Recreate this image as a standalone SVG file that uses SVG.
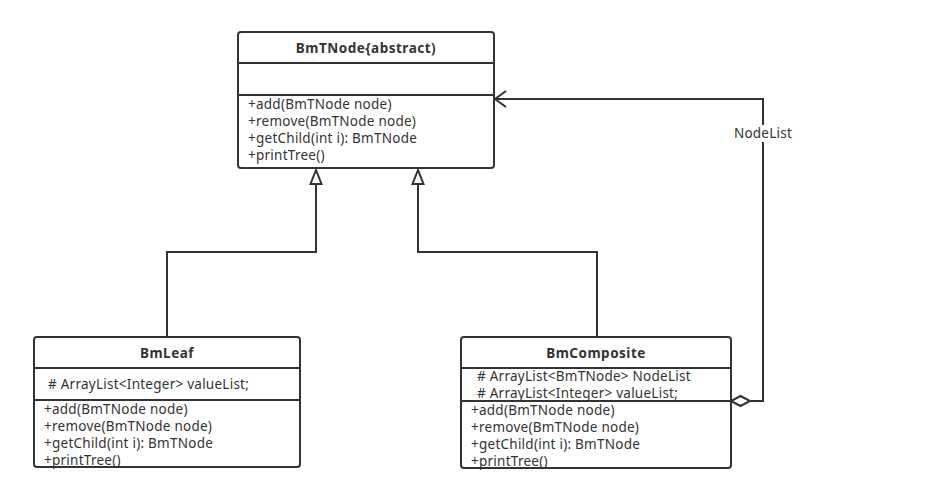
<svg xmlns="http://www.w3.org/2000/svg" width="925" height="491" viewBox="0 0 925 491">
<defs>
<style>
.box{fill:#fff;stroke:#333;stroke-width:2}
.sep{stroke:#333;stroke-width:2}
.t{font-family:"Noto Sans","Open Sans",sans-serif;font-size:13.5px;letter-spacing:0.25px;fill:#333}
.title{font-family:"Noto Sans","Open Sans",sans-serif;font-size:13.5px;letter-spacing:0.5px;font-weight:bold;fill:#333;text-anchor:middle}
.ln{fill:none;stroke:#333;stroke-width:2}
</style>
</defs>
<rect width="925" height="491" fill="#fff"/>
<g id="connectors">
<polyline class="ln" points="167,337 167,252 316,252 316,184"/>
<polygon points="316,170 310.5,184 321.5,184" fill="#fff" stroke="#333" stroke-width="2"/>
<polyline class="ln" points="597,337 597,252 418,252 418,184"/>
<polygon points="418,170 412.5,184 423.5,184" fill="#fff" stroke="#333" stroke-width="2"/>
<polyline class="ln" points="750,401 763,401 763,99 495,99"/>
<polyline class="ln" points="506,91 495,99 506,107"/>
<polygon points="731,401 740.5,396 750,401 740.5,406" fill="#fff" stroke="#333" stroke-width="2"/>
<rect x="731" y="125" width="64" height="17" fill="#fff"/>
<text class="t" x="763" y="138" text-anchor="middle">NodeList</text>
</g>
<g id="BmTNode">
<rect class="box" x="238" y="32" width="256" height="136" rx="3"/>
<line class="sep" x1="238" y1="63" x2="494" y2="63"/>
<line class="sep" x1="238" y1="95" x2="494" y2="95"/>
<text class="title" x="366" y="53">BmTNode{abstract)</text>
<text class="t" x="248" y="109">+add(BmTNode node)</text>
<text class="t" x="248" y="126">+remove(BmTNode node)</text>
<text class="t" x="248" y="143">+getChild(int i): BmTNode</text>
<text class="t" x="248" y="160">+printTree()</text>
</g>
<g id="BmLeaf">
<rect class="box" x="34" y="337" width="266" height="130" rx="3"/>
<line class="sep" x1="34" y1="368" x2="300" y2="368"/>
<line class="sep" x1="34" y1="400" x2="300" y2="400"/>
<text class="title" x="167" y="358">BmLeaf</text>
<text class="t" x="48" y="389">#  ArrayList&lt;Integer&gt;  valueList;</text>
<text class="t" x="44" y="414">+add(BmTNode node)</text>
<text class="t" x="44" y="431">+remove(BmTNode node)</text>
<text class="t" x="44" y="448">+getChild(int i): BmTNode</text>
<text class="t" x="44" y="465">+printTree()</text>
</g>
<g id="BmComposite">
<rect class="box" x="461" y="337" width="270" height="131" rx="3"/>
<line class="sep" x1="461" y1="368" x2="731" y2="368"/>
<line class="sep" x1="461" y1="401" x2="731" y2="401"/>
<text class="title" x="596" y="358">BmComposite</text>
<text class="t" x="477" y="381">#  ArrayList&lt;BmTNode&gt;  NodeList</text>
<text class="t" x="477" y="398">#  ArrayList&lt;Integer&gt;  valueList;</text>
<text class="t" x="471" y="415">+add(BmTNode node)</text>
<text class="t" x="471" y="432">+remove(BmTNode node)</text>
<text class="t" x="471" y="449">+getChild(int i): BmTNode</text>
<text class="t" x="471" y="466">+printTree()</text>
</g>
</svg>
